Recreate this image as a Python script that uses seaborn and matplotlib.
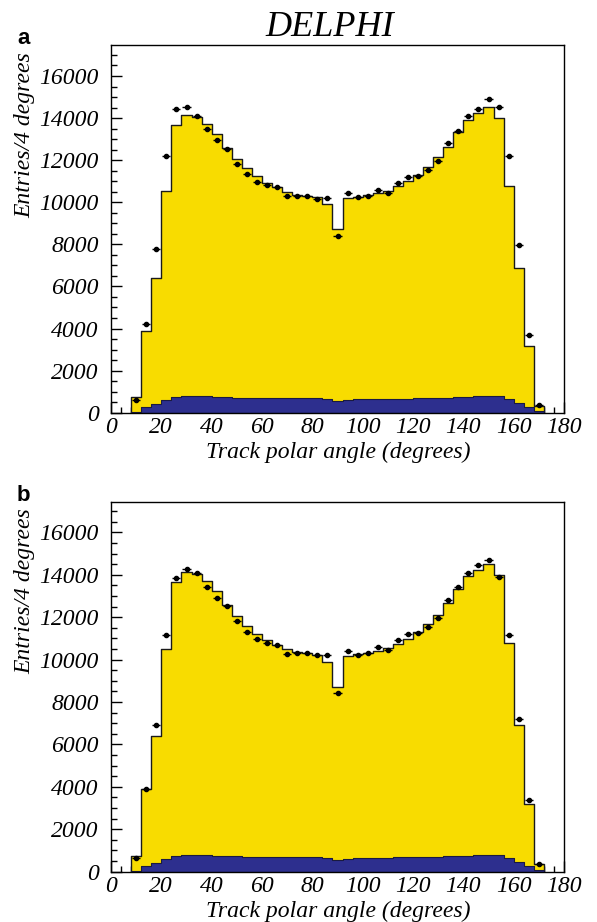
import numpy as np
import pandas as pd
import matplotlib
matplotlib.use("Agg")
import matplotlib.pyplot as plt
from matplotlib.ticker import MultipleLocator
import seaborn as sns

# ---- data (4-degree bins from 8 to 172 degrees) ----
bin_edges = list(range(8, 173, 4))
bin_centers = [e + 2 for e in bin_edges[:-1]]

mc_a = [760, 3900, 6400, 10520, 13670, 14140, 14060, 13710, 13250, 12590,
        12070, 11610, 11230, 10930, 10730, 10510, 10330, 10280, 10240, 9910,
        8740, 10190, 10270, 10330, 10430, 10550, 10760, 11000, 11310, 11660,
        12130, 12650, 13320, 13930, 14250, 14520, 14010, 10790, 6900, 3190, 320]
data_a = [620, 4220, 7790, 12180, 14410, 14520, 14090, 13460, 12950, 12510,
          11820, 11330, 10960, 10810, 10730, 10280, 10300, 10300, 10170, 10190,
          8420, 10430, 10240, 10300, 10600, 10460, 10930, 11200, 11250, 11530,
          11940, 12830, 13410, 14090, 14440, 14900, 14550, 12210, 7960, 3710, 350]
bkg_a = [40, 250, 410, 580, 760, 800, 790, 770, 750, 730,
         720, 710, 700, 690, 690, 680, 680, 680, 690, 660,
         570, 620, 640, 650, 660, 660, 670, 670, 680, 690,
         700, 720, 740, 760, 780, 790, 790, 640, 440, 250, 60]

mc_b = [740, 3900, 6420, 10500, 13660, 14130, 14040, 13720, 13250, 12570,
        12050, 11590, 11210, 10910, 10710, 10490, 10350, 10300, 10240, 9870,
        8720, 10190, 10270, 10320, 10430, 10550, 10760, 10990, 11310, 11660,
        12130, 12650, 13330, 13930, 14230, 14510, 14010, 10790, 6910, 3200, 350]
data_b = [630, 3900, 6910, 11180, 13850, 14270, 14080, 13450, 12930, 12510,
          11800, 11320, 10960, 10800, 10710, 10270, 10300, 10300, 10200, 10220,
          8440, 10430, 10220, 10300, 10580, 10460, 10930, 11200, 11250, 11530,
          11960, 12820, 13410, 14080, 14450, 14680, 13910, 11180, 7210, 3380, 360]
bkg_b = [40, 250, 410, 580, 760, 800, 790, 770, 750, 730,
         720, 710, 700, 690, 690, 680, 680, 680, 690, 660,
         570, 620, 640, 650, 660, 660, 670, 670, 680, 690,
         700, 720, 740, 760, 780, 790, 790, 640, 440, 250, 60]

panel_labels = ["a", "b"]
x_ticks = list(range(0, 181, 20))
y_ticks = list(range(0, 16001, 2000))

YELLOW = "#F8DC00"
BLUE = "#2D2F8E"

sns.set_theme(style="white")
plt.rcParams["font.family"] = ["Liberation Serif", "DejaVu Serif"]
plt.rcParams["text.color"] = "black"
plt.rcParams["xtick.color"] = "black"
plt.rcParams["ytick.color"] = "black"
plt.rcParams["xtick.labelcolor"] = "black"
plt.rcParams["ytick.labelcolor"] = "black"

W, H = 597, 922
fig = plt.figure(figsize=(W / 100, H / 100), dpi=100)

# axes rectangles in pixels: (left, top, right, bottom)
rects = [(111, 45.5, 564, 412.7), (111, 501.7, 564, 871.7)]

serif_it = dict(family=["Liberation Serif", "DejaVu Serif"], style="italic", color="black")

for i, (mc, dat, bkg) in enumerate([(mc_a, data_a, bkg_a), (mc_b, data_b, bkg_b)]):
    l, t, r, b = rects[i]
    ax = fig.add_axes([l / W, 1 - b / H, (r - l) / W, (b - t) / H])
    df = pd.DataFrame({"angle": bin_centers, "mc": mc, "bkg": bkg, "data": dat})
    sns.histplot(data=df, x="angle", weights="mc", bins=bin_edges, element="step",
                 fill=True, color=YELLOW, alpha=1, edgecolor="#1a1a1a",
                 linewidth=1.0, ax=ax)
    sns.histplot(data=df, x="angle", weights="bkg", bins=bin_edges, element="step",
                 fill=True, color=BLUE, alpha=1, edgecolor="#1a1a40",
                 linewidth=0.8, ax=ax)
    ax.errorbar(df["angle"], df["data"], xerr=1.6, fmt="o", ms=3.0,
                color="black", ecolor="black", elinewidth=1.0, capsize=0, zorder=5)

    ax.set_xlim(0, 180)
    ax.set_ylim(0, 17450)
    ax.set_xticks(x_ticks)
    ax.set_yticks(y_ticks)
    ax.xaxis.set_minor_locator(MultipleLocator(4))
    ax.yaxis.set_minor_locator(MultipleLocator(500))
    ax.tick_params(which="both", direction="in", top=False, right=False,
                   bottom=True, left=True, color="black", width=1.0)
    ax.tick_params(which="major", length=8)
    ax.tick_params(which="minor", length=4)
    ax.tick_params(axis="y", which="major", pad=9, labelsize=17)
    ax.tick_params(axis="x", which="major", pad=3, labelsize=17)
    for lab in ax.get_xticklabels() + ax.get_yticklabels():
        lab.set_fontstyle("italic")
        lab.set_family(["Liberation Serif", "DejaVu Serif"])
        lab.set_color("black")
    ax.set_xlabel("")
    ax.set_ylabel("")
    for s in ax.spines.values():
        s.set_color("black")
        s.set_linewidth(1.0)

    # y label aligned near the top of the axes
    fig.text(25 / W, 1 - (t + 7) / H, "Entries/4 degrees", rotation=90,
             ha="center", va="top", fontsize=17, **serif_it)
    # x label
    fig.text(338 / W, 1 - (b + 40) / H, "Track polar angle (degrees)",
             ha="center", va="center", fontsize=17, **serif_it)
    # panel letter
    fig.text(17 / W, 1 - (t - 1) / H, panel_labels[i], ha="left", va="baseline",
             fontsize=16, fontweight="bold", color="black",
             family=["Liberation Sans", "DejaVu Sans"])

fig.text(330 / W, 1 - 36 / H, "DELPHI", ha="center", va="baseline",
         fontsize=26, **serif_it)

fig.savefig("out.png", dpi=100)
